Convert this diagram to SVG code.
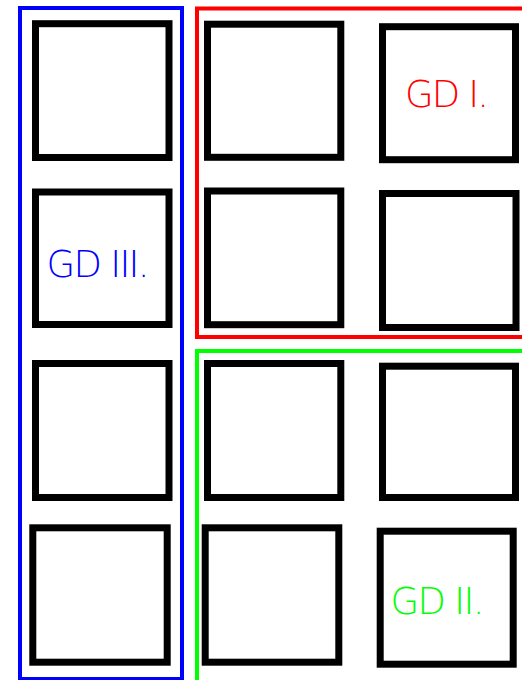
<svg xmlns="http://www.w3.org/2000/svg" width="522" height="680" viewBox="0 0 522 680">
<style>
.sq{fill:none;stroke:#000;stroke-width:7}
.fr{fill:none;stroke-width:4}
.lb{font-family:"DejaVu Sans","Liberation Sans",Arial,sans-serif;font-size:37px;font-weight:200}
</style>
<rect width="522" height="680" fill="#fff"/>
<g id="frames">
<rect id="gd3-frame" class="fr" x="20" y="8" width="162" height="671" stroke="#0000ff"/>
<rect id="gd1-frame" class="fr" x="197" y="8.5" width="330" height="328.5" stroke="#ff0000"/>
<rect id="gd2-frame" class="fr" x="197" y="351" width="330" height="340" stroke="#00ff00"/>
</g>
<g id="r1c1"><rect class="sq" x="35.5" y="23.7" width="133.5" height="133.8"/></g>
<g id="r1c2"><rect class="sq" x="207.5" y="24.2" width="133.3" height="133.1"/></g>
<g id="r1c3"><rect class="sq" x="382.5" y="26.7" width="133" height="133"/>
<text class="lb" x="405" y="106.5" fill="#ff0000" textLength="84" lengthAdjust="spacing">GD I.</text></g>
<g id="r2c1"><rect class="sq" x="35.5" y="192" width="133.5" height="132.5"/>
<text class="lb" x="46.5" y="276.5" fill="#0000ff" textLength="103" lengthAdjust="spacing">GD III.</text></g>
<g id="r2c2"><rect class="sq" x="207.5" y="191" width="133.3" height="133.7"/></g>
<g id="r2c3"><rect class="sq" x="382.5" y="193.5" width="133.5" height="134"/></g>
<g id="r3c1"><rect class="sq" x="35.5" y="363.5" width="133.5" height="134"/></g>
<g id="r3c2"><rect class="sq" x="207.5" y="363.5" width="133.3" height="134"/></g>
<g id="r3c3"><rect class="sq" x="382.5" y="366.2" width="133" height="131.3"/></g>
<g id="r4c1"><rect class="sq" x="32.8" y="527.8" width="134.4" height="134.4"/></g>
<g id="r4c2"><rect class="sq" x="205.2" y="527.8" width="133.6" height="134.4"/></g>
<g id="r4c3"><rect class="sq" x="380.2" y="531.2" width="133" height="133"/>
<text class="lb" x="390.5" y="613.5" fill="#00ff00" textLength="94" lengthAdjust="spacing">GD II.</text></g>
</svg>
